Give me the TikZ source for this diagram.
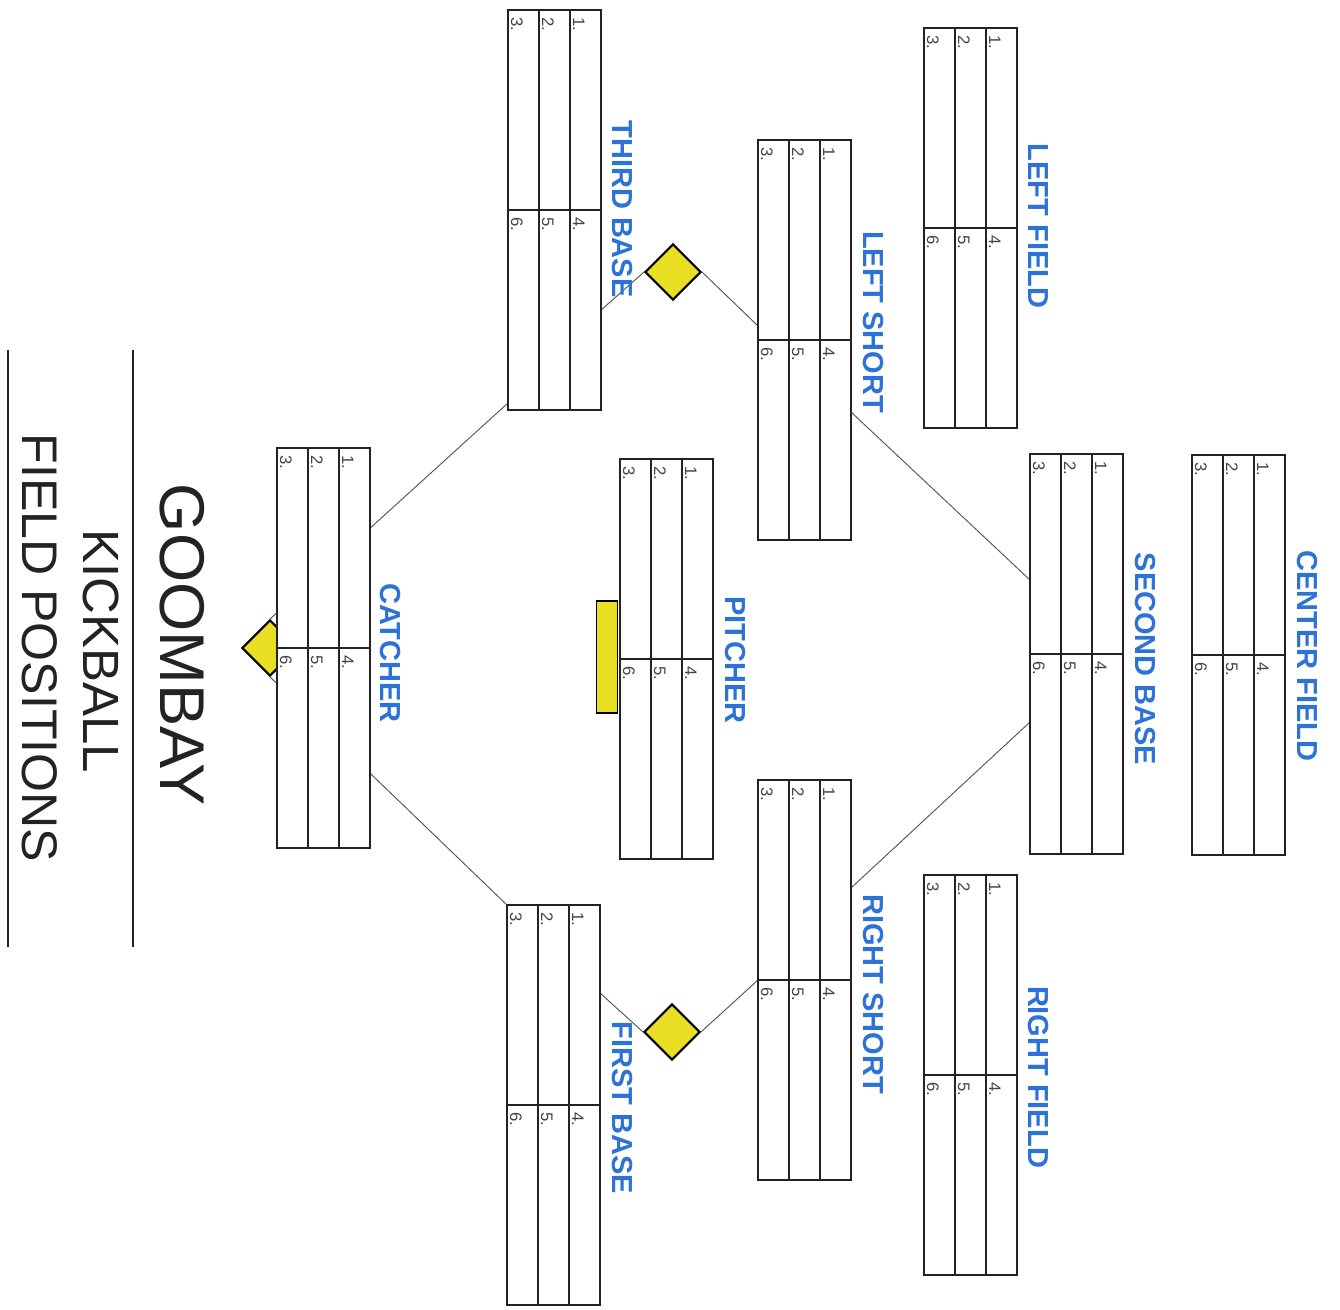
\documentclass[tikz,border=0pt]{standalone}
\usepackage{fontspec}
\setmainfont{Liberation Sans}
\usetikzlibrary{shapes.geometric,calc}
\definecolor{posblue}{RGB}{45,115,215}
\definecolor{baseyellow}{RGB}{233,222,35}
\definecolor{ink}{RGB}{35,35,35}
\definecolor{pathgray}{RGB}{90,90,90}
\tikzset{
  tablebox/.style={draw=ink, line width=0.9pt, fill=white, minimum width=1.86cm, minimum height=8cm, inner sep=0pt, outer sep=0pt},
  gridline/.style={draw=ink, line width=0.9pt},
  numtext/.style={rotate=-90, anchor=base west, inner sep=0pt, text=ink!85, font=\fontsize{9.5}{11}\selectfont},
  poslabel/.style={rotate=-90, inner sep=0pt, text=posblue, font=\bfseries\fontsize{16.5}{18}\selectfont},
  titletext/.style={rotate=-90, inner sep=0pt, text=ink},
  basepath/.style={draw=pathgray, line width=0.55pt},
  basemark/.style={shape=diamond, draw=black, line width=1.1pt, fill=baseyellow, minimum width=1.12cm, minimum height=1.12cm, inner sep=0pt},
  rubber/.style={draw=black, line width=0.9pt, fill=baseyellow, minimum width=0.42cm, minimum height=2.24cm, inner sep=0pt},
  titlerule/.style={draw=ink, line width=0.8pt}
}
\newcommand{\postable}[3]{%
  \node[tablebox, anchor=north west] (#1) at (#2,#3) {};
  \draw[gridline] ($(#1.north west)!1/3!(#1.north east)$) -- ($(#1.south west)!1/3!(#1.south east)$);
  \draw[gridline] ($(#1.north west)!2/3!(#1.north east)$) -- ($(#1.south west)!2/3!(#1.south east)$);
  \draw[gridline] (#1.west) -- (#1.east);
  \node[numtext] (#1-n1) at ($(#1.north west)+(65,7)$) {1.};
  \node[numtext] (#1-n2) at ($(#1.north west)+(34,7)$) {2.};
  \node[numtext] (#1-n3) at ($(#1.north west)+(3,7)$) {3.};
  \node[numtext] (#1-n4) at ($(#1.west)+(65,7)$) {4.};
  \node[numtext] (#1-n5) at ($(#1.west)+(34,7)$) {5.};
  \node[numtext] (#1-n6) at ($(#1.west)+(3,7)$) {6.};
}
\begin{document}
\begin{tikzpicture}[x=0.02cm, y=-0.02cm]
\useasboundingbox (0,0) rectangle (1340,1310);
\fill[white] (0,0) rectangle (1340,1310);

% base markers
\node[basemark] (home) at (270,648) {};
\node[basemark] (third-bag) at (673,272) {};
\node[basemark] (first-bag) at (672,1032) {};
\node[rubber] (mound) at (607,657) {};

% edge points of the tables
\coordinate (p-third-low) at (508,403);
\coordinate (p-third-bag) at (600,311);
\coordinate (p-ls-bag) at (758,326);
\coordinate (p-ls-second) at (851,412);
\coordinate (p-second-ls) at (1030,580);
\coordinate (p-second-rs) at (1030,722);
\coordinate (p-rs-second) at (851,888);
\coordinate (p-rs-bag) at (758,980);
\coordinate (p-first-bag) at (600,993);
\coordinate (p-first-low) at (507,905);

% base paths
\draw[basepath] (home.north) -- (p-third-low);
\draw[basepath] (p-third-bag) -- (third-bag.west);
\draw[basepath] (third-bag.east) -- (p-ls-bag);
\draw[basepath] (p-ls-second) -- (p-second-ls);
\draw[basepath] (p-second-rs) -- (p-rs-second);
\draw[basepath] (p-rs-bag) -- (first-bag.east);
\draw[basepath] (first-bag.west) -- (p-first-bag);
\draw[basepath] (p-first-low) -- (home.south);

% redraw markers over the paths
\node[basemark] at (home) {};
\node[basemark] at (third-bag) {};
\node[basemark] at (first-bag) {};

% tables
\postable{thirdbase}{508}{10}
\postable{leftfield}{924}{28}
\postable{leftshort}{758}{140}
\postable{catcher}{277}{448}
\postable{pitcher}{620}{459}
\postable{secondbase}{1030}{454}
\postable{centerfield}{1192}{455}
\postable{rightshort}{758}{780}
\postable{rightfield}{924}{875}
\postable{firstbase}{507}{905}

% position labels
\node[poslabel] (l-third) at (622,209) {THIRD BASE};
\node[poslabel] (l-lf) at (1038,226) {LEFT FIELD};
\node[poslabel] (l-ls) at (873,322) {LEFT SHORT};
\node[poslabel] (l-catcher) at (390,653) {CATCHER};
\node[poslabel] (l-pitcher) at (735,660) {PITCHER};
\node[poslabel] (l-second) at (1145,659) {SECOND BASE};
\node[poslabel] (l-cf) at (1307,656) {CENTER FIELD};
\node[poslabel] (l-rs) at (873,994) {RIGHT SHORT};
\node[poslabel] (l-rf) at (1038,1077) {RIGHT FIELD};
\node[poslabel] (l-first) at (622,1108) {FIRST BASE};

% title
\coordinate (r1a) at (133,350);
\coordinate (r1b) at (133,947);
\coordinate (r2a) at (8,350);
\coordinate (r2b) at (8,947);
\draw[titlerule] (r1a) -- (r1b);
\draw[titlerule] (r2a) -- (r2b);
\node[titletext, font=\fontsize{36}{40}\selectfont] (t1) at (182,645) {GOOMBAY};
\node[titletext, font=\fontsize{29}{32}\selectfont] (t2) at (101,651) {KICKBALL};
\node[titletext, font=\fontsize{28.5}{32}\selectfont] (t3) at (40,648) {FIELD POSITIONS};
\end{tikzpicture}
\end{document}
